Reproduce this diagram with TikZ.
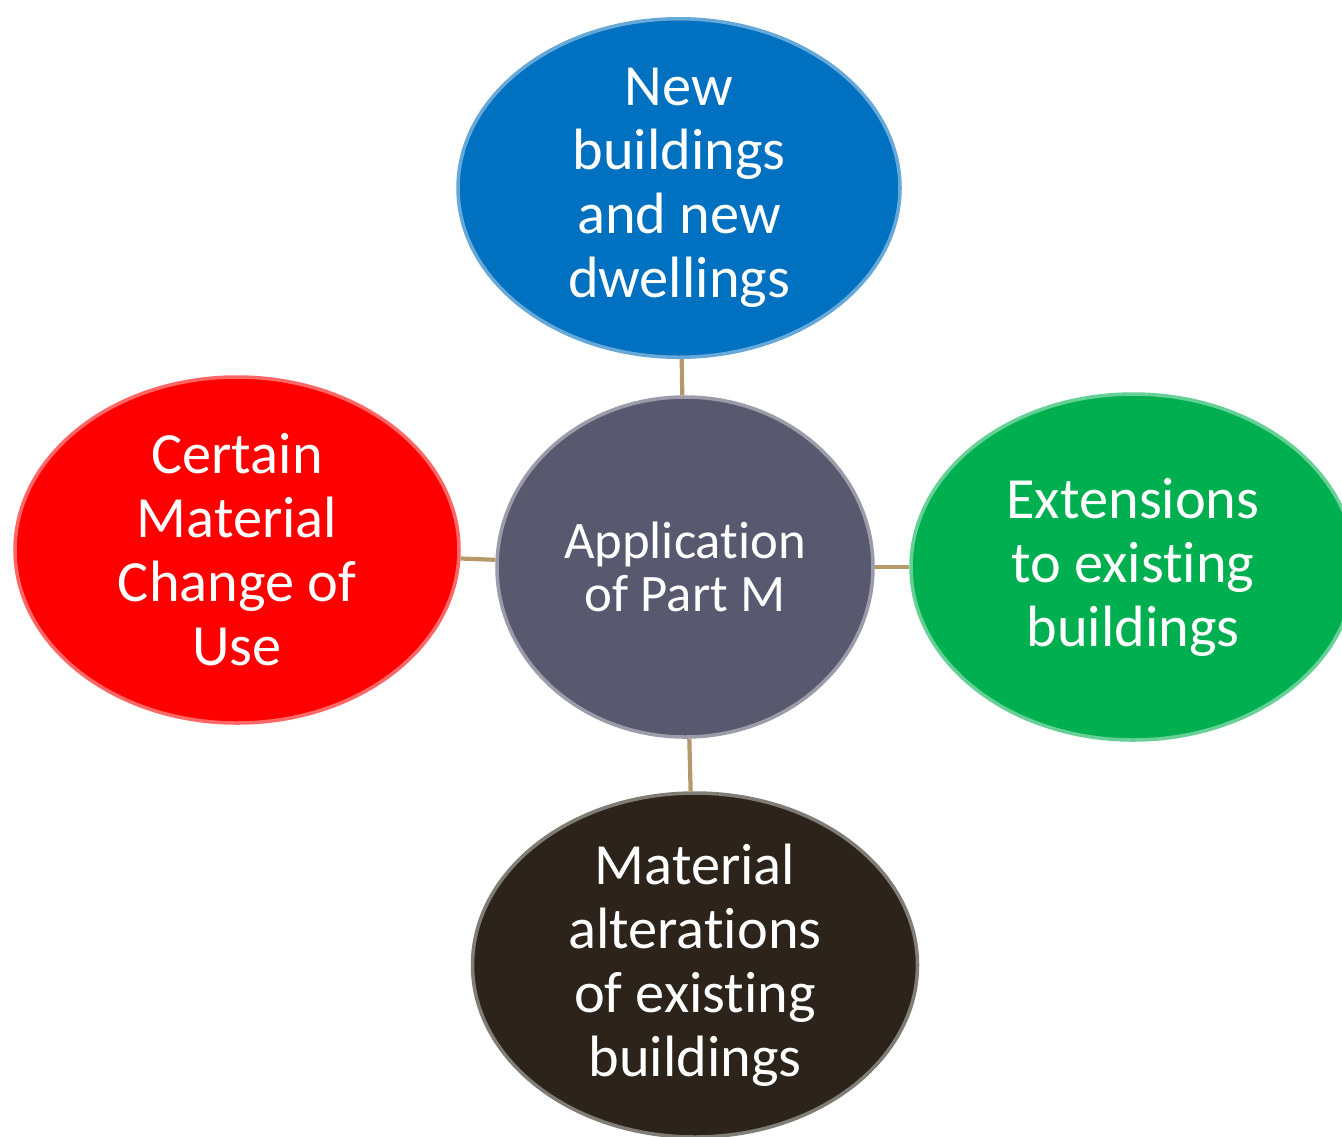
\documentclass[tikz,border=0pt]{standalone}
\usepackage{fontspec}
\setmainfont[Ligatures=NoCommon]{Carlito}
\usetikzlibrary{shapes.geometric}
\definecolor{newblue}{HTML}{0070C0}
\definecolor{hubgrey}{HTML}{58586F}
\definecolor{extgreen}{HTML}{00B050}
\definecolor{usered}{HTML}{FF0000}
\definecolor{altbrown}{HTML}{2C241A}
\definecolor{stalk}{HTML}{B5996B}
\tikzset{
	bubble/.style={ellipse, fill=#1, draw=#1!60!white, line width=1pt, inner sep=0pt,
		text=white, align=center, font=\fontsize{16.6}{18.2}\selectfont},
	link/.style={draw=stalk, line width=1.2pt}
}
\begin{document}
\begin{tikzpicture}[y=-1cm]
	\clip (0,0) rectangle (13.42,11.36);
	\node[bubble=hubgrey, minimum width=3.76cm, minimum height=3.40cm,
		font=\fontsize{15}{15.2}\selectfont] (hub) at (6.85,5.67) {Application\\of Part M};
	\node[bubble=newblue, minimum width=4.42cm, minimum height=3.36cm] (new) at (6.79,1.88) {New\\buildings\\and new\\dwellings};
	\node[bubble=usered, minimum width=4.44cm, minimum height=3.46cm] (use) at (2.37,5.50) {Certain\\Material\\Change of\\Use};
	\node[bubble=extgreen, minimum width=4.44cm, minimum height=3.46cm] (ext) at (11.33,5.67) {Extensions\\to existing\\buildings};
	\node[bubble=altbrown, minimum width=4.45cm, minimum height=3.44cm] (alt) at (6.95,9.65) {Material\\alterations\\of existing\\buildings};
	\draw[link] (new) -- (hub);
	\draw[link] (use) -- (hub);
	\draw[link] (hub) -- (ext);
	\draw[link] (hub) -- (alt);
\end{tikzpicture}
\end{document}
